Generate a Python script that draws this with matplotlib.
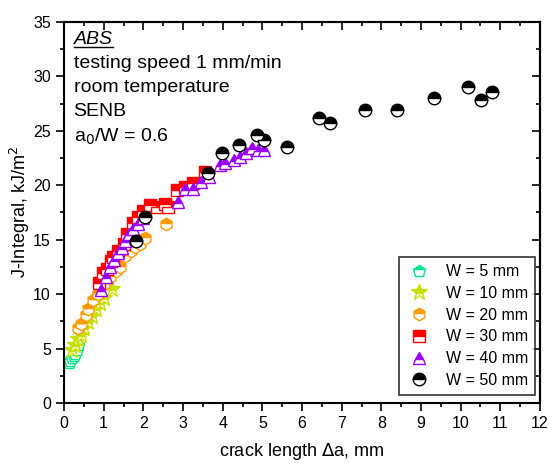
import matplotlib
matplotlib.use("Agg")
import matplotlib.pyplot as plt
from matplotlib.lines import Line2D
from matplotlib.ticker import MultipleLocator

plt.rcParams['font.family'] = ['Liberation Sans', 'DejaVu Sans']

# crack growth resistance data, one set per specimen width
w5_x = [0.12, 0.16, 0.20, 0.24, 0.28, 0.32, 0.35]
w5_y = [3.7, 3.9, 4.1, 4.3, 4.5, 4.9, 5.3]

w10_x = [0.20, 0.28, 0.35, 0.42, 0.50, 0.60, 0.70, 0.80, 0.90, 1.00, 1.20]
w10_y = [4.9, 5.3, 5.9, 6.2, 6.9, 7.4, 8.0, 8.6, 9.2, 9.6, 10.5]

w20_x = [0.35, 0.42, 0.55, 0.61, 0.74, 0.85, 1.00, 1.15, 1.30, 1.41, 1.55,
         1.70, 1.79, 1.92, 2.05, 2.57]
w20_y = [6.9, 7.3, 8.1, 8.6, 9.5, 10.0, 10.9, 11.6, 12.1, 12.5, 13.5,
         14.0, 14.3, 14.6, 15.2, 16.4]

w30_x = [0.87, 0.99, 1.08, 1.18, 1.24, 1.35, 1.50, 1.60, 1.75, 1.87, 2.00,
         2.17, 2.34, 2.55, 2.63, 2.84, 3.05, 3.26, 3.55]
w30_y = [11.0, 11.9, 12.3, 13.0, 13.4, 14.0, 14.6, 15.5, 16.5, 17.1, 17.6,
         18.2, 18.0, 18.3, 18.0, 19.6, 19.8, 20.2, 21.2]

w40_x = [0.93, 1.05, 1.15, 1.25, 1.35, 1.45, 1.55, 1.65, 1.75, 1.87, 2.00,
         2.88, 3.05, 3.26, 3.45, 3.65, 3.93, 4.07, 4.29, 4.44, 4.60, 4.73,
         4.90, 5.05]
w40_y = [10.4, 11.6, 12.5, 13.1, 13.8, 14.2, 14.9, 15.5, 16.0, 16.4, 17.0,
         18.5, 19.7, 19.7, 20.3, 20.8, 21.9, 22.0, 22.3, 22.6, 23.0, 23.4,
         23.2, 23.2]

w50_x = [1.81, 2.04, 3.62, 3.99, 4.42, 4.87, 5.04, 5.63, 6.43, 6.71, 7.59,
         8.39, 9.33, 10.18, 10.51, 10.78]
w50_y = [14.9, 17.1, 21.1, 23.0, 23.7, 24.6, 24.2, 23.5, 26.2, 25.7, 26.9,
         26.9, 28.0, 29.0, 27.8, 28.6]

series = [
    ('W = 5 mm', w5_x, w5_y, 'p', '#00e68a'),
    ('W = 10 mm', w10_x, w10_y, '*', '#c8e000'),
    ('W = 20 mm', w20_x, w20_y, 'h', '#ff9900'),
    ('W = 30 mm', w30_x, w30_y, 's', '#ff0000'),
    ('W = 40 mm', w40_x, w40_y, '^', '#9900ff'),
    ('W = 50 mm', w50_x, w50_y, 'o', '#000000'),
]

fig = plt.figure(figsize=(5.49, 4.63), dpi=100)
ax = fig.add_axes([0.1166, 0.1296, 0.867, 0.823])

for label, x, y, m, c in series:
    ms = 12 if m == '*' else 9
    ax.plot(x, y, linestyle='none', marker=m, markersize=ms,
            fillstyle='top', markerfacecolor=c, markerfacecoloralt='white',
            markeredgecolor=c, markeredgewidth=1.0, label=label)

ax.set_xlim(0, 12)
ax.set_ylim(0, 35)
ax.xaxis.set_major_locator(MultipleLocator(1))
ax.xaxis.set_minor_locator(MultipleLocator(0.5))
ax.yaxis.set_major_locator(MultipleLocator(5))
ax.yaxis.set_minor_locator(MultipleLocator(2.5))
ax.tick_params(which='both', direction='out', labelsize=11.5, width=1.2)
ax.tick_params(which='major', length=6)
ax.tick_params(which='minor', length=3)
for s in ax.spines.values():
    s.set_linewidth(1.5)

# inward ticks on the top and right edges
for sec, which in ((ax.secondary_xaxis('top'), 'x'), (ax.secondary_yaxis('right'), 'y')):
    axis = sec.xaxis if which == 'x' else sec.yaxis
    axis.set_major_locator(MultipleLocator(1 if which == 'x' else 5))
    axis.set_minor_locator(MultipleLocator(0.5 if which == 'x' else 2.5))
    sec.tick_params(which='both', direction='in', labelleft=False,
                    labelright=False, labeltop=False, labelbottom=False, width=1.2)
    sec.tick_params(which='major', length=6)
    sec.tick_params(which='minor', length=3)
    for s in sec.spines.values():
        s.set_linewidth(1.5)

ax.set_xlabel('crack length $\\Delta$a, mm', fontsize=13, labelpad=7)
ax.set_ylabel('J-Integral, kJ/m$^2$', fontsize=13, labelpad=1)

leg = ax.legend(loc='lower right', fontsize=11.5, frameon=True, fancybox=False,
                edgecolor='black', handletextpad=0.9, handlelength=1.6,
                borderpad=0.45, labelspacing=0.42, borderaxespad=0,
                bbox_to_anchor=(0.99, 0.021))
leg.get_frame().set_linewidth(1.2)

info = ['testing speed 1 mm/min', 'room temperature', 'SENB',
        'a$_0$/W = 0.6']
t = ax.text(0.02, 0.975, 'ABS', transform=ax.transAxes, fontsize=14,
            style='italic', va='top', ha='left')
for i, line in enumerate(info):
    ax.text(0.02, 0.912 - i * 0.062, line, transform=ax.transAxes,
            fontsize=14, va='top', ha='left')

# underline the material name
fig.canvas.draw()
bb = t.get_window_extent().transformed(ax.transAxes.inverted())
ax.add_line(Line2D([bb.x0, bb.x1], [bb.y0 + 0.004, bb.y0 + 0.004],
                   transform=ax.transAxes, color='black', linewidth=1.0))

fig.savefig('out.png', dpi=100)
